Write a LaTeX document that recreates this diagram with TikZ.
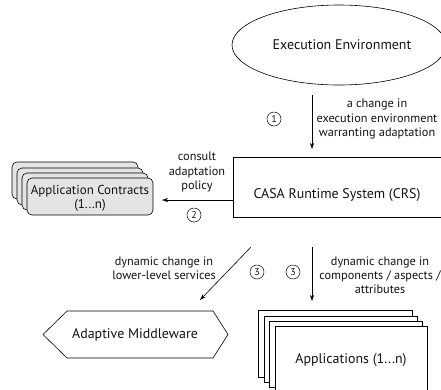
\documentclass[tikz,border=0pt]{standalone}
\usepackage{fontspec}
\setmainfont{PT Sans}
\usetikzlibrary{arrows.meta,shapes.geometric}
\definecolor{txt}{HTML}{111111}
\definecolor{cgray}{HTML}{E4E4E4}
\tikzset{
  mainlbl/.style={font=\fontsize{14}{15}\selectfont, text=txt, inner sep=0pt},
  edgelbl/.style={font=\fontsize{12.3}{14.2}\selectfont, text=txt, align=center, inner sep=0pt},
  numc/.style={circle, draw, line width=0.5pt, minimum size=14bp, inner sep=0pt, font=\fontsize{10}{10}\selectfont, text=txt},
  arr/.style={-{Stealth[length=6bp,width=4bp]}, line width=0.6pt},
  boxline/.style={draw, line width=0.6pt},
  contract/.style={boxline, fill=cgray, rounded corners=5bp},
  appbox/.style={boxline, fill=white},
}
\begin{document}
\begin{tikzpicture}[x=1bp,y=-1bp]
\useasboundingbox (0,0) rectangle (441,389);
\clip (0,0) rectangle (441,389);
% Execution Environment
\node[boxline, ellipse, minimum width=214bp, minimum height=80bp, inner sep=0pt] (env) at (339,45) {};
\node[mainlbl] (envt) at (342,45) {Execution Environment};
% CRS
\node[boxline, minimum width=210bp, minimum height=60bp, inner sep=0pt] (crs) at (338,187) {};
\node[mainlbl] (crst) at (337,195) {CASA Runtime System (CRS)};
% Application contracts stack
\draw[contract] (12,162) rectangle (138,199);
\draw[contract] (17,168) rectangle (143,205);
\draw[contract] (22,173) rectangle (148,210);
\node[contract, minimum width=126bp, minimum height=37bp, inner sep=0pt] (ac) at (90,196.5) {};
\node[mainlbl, align=center, font=\fontsize{13}{14}\selectfont] (act) at (90,198) {Application Contracts\\(1...n)};
% Adaptive middleware
\node[mainlbl] (mw) at (135,334.5) {Adaptive Middleware};
\draw[line width=0.6pt] (43,334.5) -- (67,311) -- (213,311) -- (228,334.5) -- (213,358) -- (67,358) -- cycle;
% Applications stack
\draw[appbox] (258,310) rectangle (412,377);
\draw[appbox] (264,316) rectangle (417,382);
\draw[appbox] (269,321) rectangle (422,387);
\node[appbox, minimum width=152bp, minimum height=70bp, inner sep=0pt] (apps) at (351,361) {};
\node[mainlbl] (appst) at (351,360) {Applications (1...n)};
% arrow coordinates
\coordinate (a1s) at (312,95);
\coordinate (a1e) at (312,149);
\coordinate (a2e) at (162,200);
\coordinate (a3ls) at (251,247);
\coordinate (a3le) at (200,300);
\coordinate (a3rs) at (312,247);
\coordinate (a3re) at (312,301);
\draw[arr] (a1s) -- (a1e);
\draw[arr] (crs.west |- a2e) -- (a2e);
\draw[arr] (a3ls) -- (a3le);
\draw[arr] (a3rs) -- (a3re);
% labels
\node[numc] (n1) at (274,119) {1};
\node[edgelbl] (l1) at (377,119) {a change in\\execution environment\\warranting adaptation};
\node[edgelbl] (l2) at (197,172) {consult\\adaptation\\policy};
\node[numc] (n2) at (194,215) {2};
\node[edgelbl] (l3l) at (164,268) {dynamic change in\\lower-level services};
\node[numc] (n3a) at (257,272) {3};
\node[numc] (n3b) at (293,272) {3};
\node[edgelbl] (l3r) at (380,275) {dynamic change in\\components / aspects /\\attributes};
\end{tikzpicture}
\end{document}
